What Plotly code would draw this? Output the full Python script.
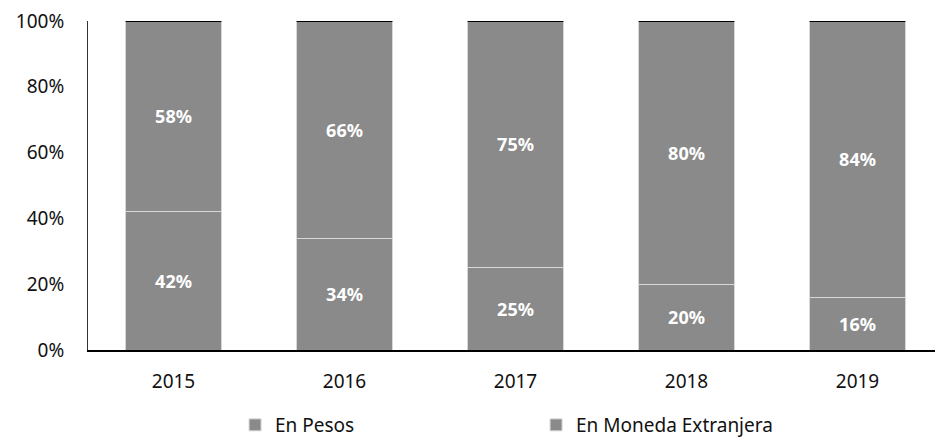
import plotly.graph_objects as go

years = ["2015", "2016", "2017", "2018", "2019"]
en_pesos = [42, 34, 25, 20, 16]
en_moneda_extranjera = [58, 66, 75, 80, 84]
pesos_labels = ["42%", "34%", "25%", "20%", "16%"]
me_labels = ["58%", "66%", "75%", "80%", "84%"]
ytick_vals = [0, 20, 40, 60, 80, 100]
ytick_text = ["0%", "20%", "40%", "60%", "80%", "100%"]

FONT = "Noto Sans"
BAR = "#8a8a8a"

fig = go.Figure()
fig.add_trace(go.Bar(
    x=years, y=en_pesos, name="En Pesos", text=pesos_labels,
    textposition="inside", insidetextanchor="middle",
    textfont=dict(family=FONT, size=18, color="white", weight="bold"),
    marker=dict(color=BAR, line=dict(color="#d8d8d8", width=1)),
))
fig.add_trace(go.Bar(
    x=years, y=en_moneda_extranjera, name="En Moneda Extranjera", text=me_labels,
    textposition="inside", insidetextanchor="middle",
    textfont=dict(family=FONT, size=18, color="white", weight="bold"),
    marker=dict(color=BAR, line=dict(color="#d8d8d8", width=1)),
))

# black top edge on each bar
for i, (a, b) in enumerate(zip(en_pesos, en_moneda_extranjera)):
    fig.add_shape(type="line", xref="x", yref="y",
                  x0=i - 0.28, x1=i + 0.28, y0=a + b, y1=a + b,
                  line=dict(color="black", width=2))

# page body has an 8px margin, so the figure is a bit smaller and offset
fig.update_layout(
    barmode="stack",
    bargap=0.44,
    width=935, height=436,
    margin=dict(l=80, r=0, t=13, b=94),
    plot_bgcolor="white", paper_bgcolor="white",
    font=dict(family=FONT, size=19, color="#111111"),
    showlegend=True,
    legend=dict(orientation="h", x=0.172, xanchor="left",
                yref="container", y=-0.006, yanchor="bottom",
                traceorder="normal", itemwidth=30, entrywidth=256,
                font=dict(family=FONT, size=19, color="#111111")),
    uniformtext=dict(mode="show", minsize=10),
)
fig.update_xaxes(showline=True, linecolor="black", linewidth=2, ticks="",
                 tickfont=dict(size=19), showgrid=False, ticklabelstandoff=13)
fig.update_yaxes(range=[0, 100], tickvals=ytick_vals, ticktext=ytick_text,
                 showline=True, linecolor="#333333", linewidth=1, showgrid=False,
                 zeroline=False, ticks="", ticklabelstandoff=19,
                 ticklabeloverflow="allow", tickfont=dict(size=19))

fig.write_html("out.html")
